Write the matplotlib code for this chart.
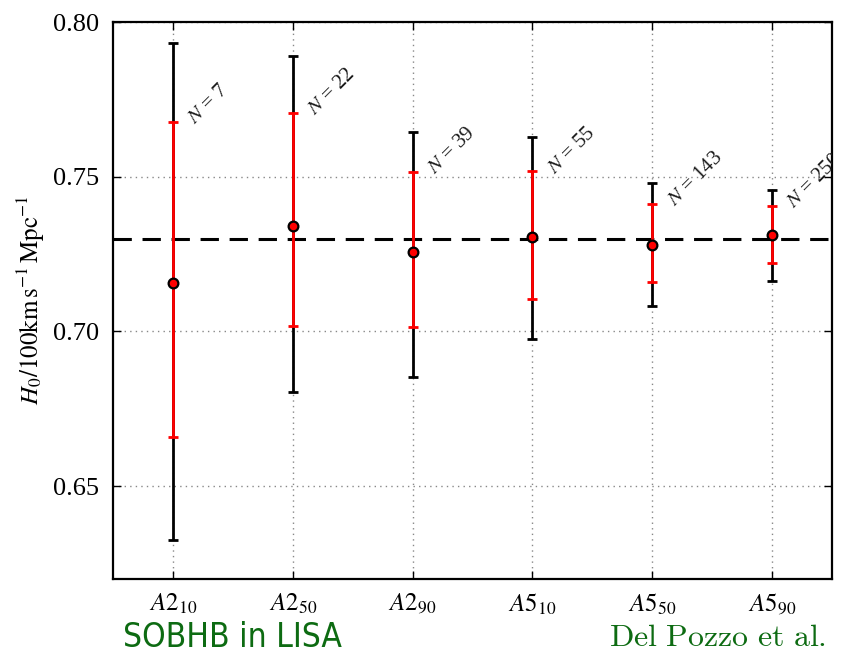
import matplotlib
matplotlib.use("Agg")
import matplotlib.pyplot as plt
import numpy as np

# Catalogue names and number of events
catalogues = ["A2_{10}", "A2_{50}", "A2_{90}", "A5_{10}", "A5_{50}", "A5_{90}"]
n_events = [7, 22, 39, 55, 143, 250]

# Posterior median and credible bounds for h = H0 / 100 km/s/Mpc
median = [0.7158, 0.7342, 0.7256, 0.7304, 0.7281, 0.7313]
lo68 = [0.6660, 0.7019, 0.7013, 0.7105, 0.7160, 0.7220]
hi68 = [0.7677, 0.7705, 0.7514, 0.7517, 0.7413, 0.7406]
lo90 = [0.6325, 0.6805, 0.6852, 0.6977, 0.7083, 0.7163]
hi90 = [0.7931, 0.7890, 0.7644, 0.7627, 0.7480, 0.7456]

yticks = [0.65, 0.70, 0.75, 0.80]
ytick_labels = ["0.65", "0.70", "0.75", "0.80"]

h_true = 0.73

plt.rcParams["mathtext.fontset"] = "stix"
plt.rcParams["font.family"] = "Liberation Serif"

fig = plt.figure(figsize=(8.44, 6.55), dpi=100)
ax = fig.add_axes([0.1339, 0.1160, 0.8519, 0.8504])

x = np.arange(len(catalogues))
median = np.array(median)

ax.errorbar(x, median,
            yerr=[median - np.array(lo90), np.array(hi90) - median],
            fmt="none", ecolor="black", elinewidth=2.0, capsize=3.6,
            capthick=2.0, zorder=3)
ax.errorbar(x, median,
            yerr=[median - np.array(lo68), np.array(hi68) - median],
            fmt="none", ecolor="red", elinewidth=2.0, capsize=3.6,
            capthick=2.0, zorder=4)
ax.axhline(h_true, color="black", lw=2.2, ls=(0, (6, 3.5)), zorder=3.5)
ax.plot(x, median, "o", ms=7, mfc="red", mec="black", mew=1.6, zorder=5)

for xi, top, n in zip(x, hi68, n_events):
    ax.text(xi + 0.1, top - 0.002, r"$N$ = %d" % n, rotation=45,
            ha="left", va="bottom", fontsize=15, color="#1a1a1a",
            clip_on=True, zorder=6)

ax.set_xlim(-0.5, 5.5)
ax.set_ylim(0.62, 0.80)
ax.tick_params(direction="in", top=True, right=True, length=6, width=1)
ax.tick_params(axis="y", pad=10)
ax.tick_params(axis="x", pad=9)
ax.set_yticks(yticks)
ax.set_yticklabels(ytick_labels, fontsize=19)
ax.set_xticks(x)
ax.set_xticklabels([r"$A%s$" % c[1:] for c in catalogues], fontsize=18)
ax.grid(True, ls=(0, (1, 3)), color="#888888", lw=1.0)
for s in ax.spines.values():
    s.set_linewidth(1.6)

ax.set_ylabel(r"$H_0/100\mathrm{km\,s^{-1}\,Mpc^{-1}}$", fontsize=18,
              labelpad=4)

fig.text(0.146, 0.012, "SOBHB in LISA", fontsize=24, color="#0d6b12",
         family="DejaVu Sans", fontstretch="condensed", va="baseline")
fig.text(0.722, 0.014, r"$\mathrm{Del\ Pozzo\ et\ al.}$", fontsize=23,
         color="#0d6b12", math_fontfamily="cm", va="baseline")

fig.savefig("out.png", dpi=100)
